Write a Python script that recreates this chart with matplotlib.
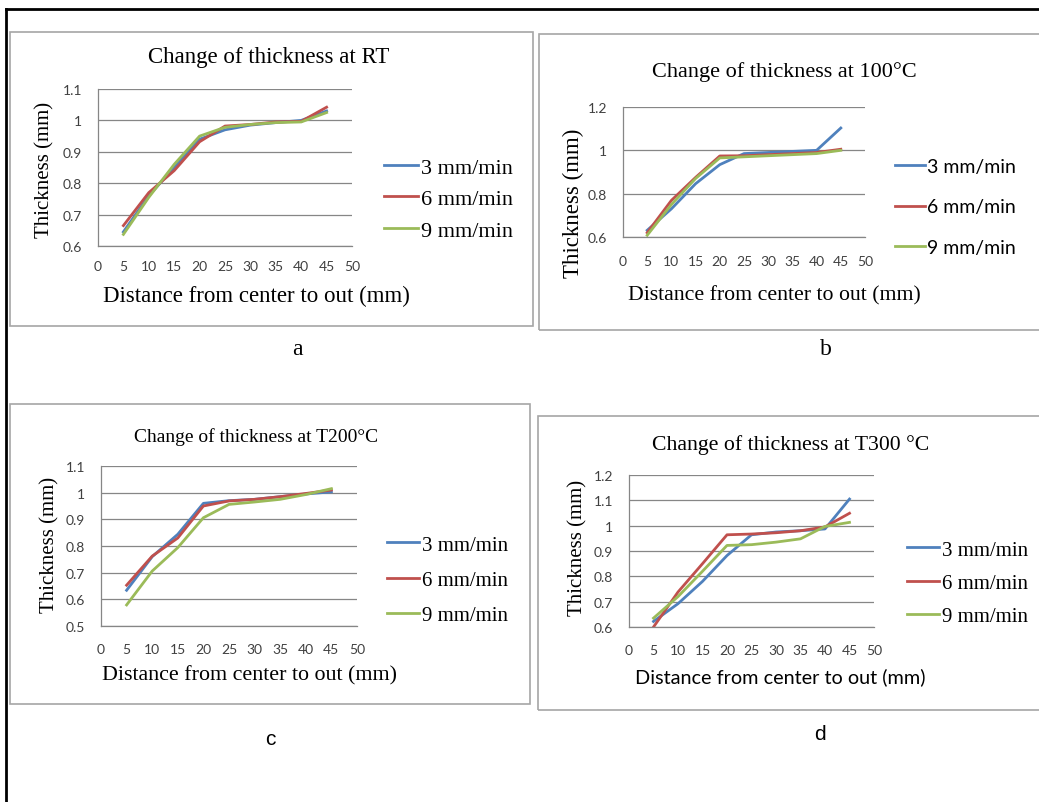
import matplotlib
matplotlib.use("Agg")
import matplotlib.pyplot as plt
from matplotlib.lines import Line2D
from matplotlib.patches import Rectangle

W, H = 1039, 803

distance_mm = [5, 10, 15, 20, 25, 30, 35, 40, 45]
speeds = ["3 mm/min", "6 mm/min", "9 mm/min"]

rt_3 = [0.645, 0.76, 0.85, 0.94, 0.97, 0.985, 0.993, 1.0, 1.03]
rt_6 = [0.665, 0.77, 0.84, 0.932, 0.982, 0.987, 0.995, 0.997, 1.042]
rt_9 = [0.637, 0.755, 0.86, 0.95, 0.978, 0.987, 0.993, 0.995, 1.025]

t100_3 = [0.631, 0.73, 0.846, 0.934, 0.985, 0.99, 0.995, 1.0, 1.103]
t100_6 = [0.62, 0.769, 0.875, 0.974, 0.975, 0.98, 0.985, 0.99, 1.005]
t100_9 = [0.608, 0.75, 0.87, 0.965, 0.97, 0.975, 0.98, 0.985, 1.0]

t200_3 = [0.634, 0.76, 0.844, 0.96, 0.97, 0.975, 0.985, 0.995, 1.003]
t200_6 = [0.653, 0.762, 0.83, 0.95, 0.969, 0.975, 0.985, 0.997, 1.01]
t200_9 = [0.579, 0.706, 0.794, 0.906, 0.956, 0.965, 0.975, 0.993, 1.015]

t300_3 = [0.622, 0.692, 0.78, 0.882, 0.964, 0.975, 0.98, 0.987, 1.105]
t300_6 = [0.6, 0.738, 0.85, 0.964, 0.967, 0.972, 0.98, 0.995, 1.049]
t300_9 = [0.635, 0.72, 0.82, 0.922, 0.925, 0.935, 0.948, 0.997, 1.013]

x_ticks = [0, 5, 10, 15, 20, 25, 30, 35, 40, 45, 50]

COLORS = ["#4F81BD", "#C0504D", "#9BBB59"]
GRID = "#868686"
SERIF = "Liberation Serif"
SANS = "Lato"

fig = plt.figure(figsize=(W / 100, H / 100), dpi=100)


def fx(x):
    return x / W


def fy(y):
    return 1 - y / H


def box(x0, y0, x1, y1):
    fig.patches.append(
        Rectangle((fx(x0), fy(y1)), fx(x1 - x0), (y1 - y0) / H,
                  transform=fig.transFigure, fill=False,
                  edgecolor="#A6A6A6", lw=1.2)
    )


def panel(area, series, ylim, yticks, title, title_xy, title_size,
          ylab_xy, ylab_size, xlab_xy, xlab_font, leg_xy, leg_font, xpad=11):
    x0, y0, x1, y1 = area
    ax = fig.add_axes([fx(x0), fy(y1), fx(x1 - x0), (y1 - y0) / H])
    for vals, c, lab in zip(series, COLORS, speeds):
        ax.plot(distance_mm, vals, color=c, lw=2.0, label=lab)
    ax.set_xlim(0, 50)
    ax.set_ylim(*ylim)
    ax.set_xticks(x_ticks)
    ax.set_yticks(yticks)
    ax.set_yticklabels([f"{v:g}" for v in yticks])
    ax.tick_params(length=0, labelsize=10, colors="#404040")
    ax.tick_params(axis="x", pad=xpad)
    ax.tick_params(axis="y", pad=11.5)
    for t in ax.get_xticklabels() + ax.get_yticklabels():
        t.set_family(SANS)
    ax.yaxis.grid(True, color=GRID, lw=0.9)
    ax.set_axisbelow(True)
    for s in ["top", "right"]:
        ax.spines[s].set_visible(False)
    for s in ["left", "bottom"]:
        ax.spines[s].set_color(GRID)
        ax.spines[s].set_linewidth(0.9)
    fig.text(fx(title_xy[0]), fy(title_xy[1]), title, ha="center", va="center",
             family=SERIF, fontsize=title_size)
    fig.text(fx(ylab_xy[0]), fy(ylab_xy[1]), "Thickness (mm)", rotation=90,
             ha="center", va="center", family=SERIF, fontsize=ylab_size)
    fig.text(fx(xlab_xy[0]), fy(xlab_xy[1]), "Distance from center to out (mm)",
             ha="center", va="center", family=xlab_font[0], fontsize=xlab_font[1])
    ax.legend(loc="upper left", bbox_to_anchor=(fx(leg_xy[0]), fy(leg_xy[1])),
              bbox_transform=fig.transFigure, frameon=False,
              handlelength=1.55, handletextpad=0.12, borderpad=0,
              borderaxespad=0, labelspacing=leg_font[2],
              prop={"family": leg_font[0], "size": leg_font[1]})
    return ax


# panel frames
box(10, 33, 533, 327)
box(539, 35, 1045, 331)
box(10, 405, 530, 705)
box(538, 417, 1045, 711)

panel((98, 90, 352, 247), [rt_3, rt_6, rt_9], (0.6, 1.1),
      [0.6, 0.7, 0.8, 0.9, 1.0, 1.1], "Change of thickness at RT", (269, 57), 16.5,
      (45, 170), 15, (256, 296), (SERIF, 16.5), (384, 158), (SERIF, 16, 0.5),
      xpad=10)

panel((623, 108, 865, 238), [t100_3, t100_6, t100_9], (0.6, 1.2),
      [0.6, 0.8, 1.0, 1.2], "Change of thickness at 100\u00b0C", (784, 72), 16,
      (573, 203), 16.5, (774, 296), (SERIF, 15.7), (895, 159), (SANS, 14, 1.2),
      xpad=13)

panel((101, 467, 357, 627), [t200_3, t200_6, t200_9], (0.5, 1.1),
      [0.5, 0.6, 0.7, 0.8, 0.9, 1.0, 1.1], "Change of thickness at T200\u00b0C",
      (256, 437), 14, (50, 545), 15, (250, 676), (SERIF, 15.8), (387, 536),
      (SERIF, 15, 0.75), xpad=12)

panel((629, 476, 874, 628), [t300_3, t300_6, t300_9], (0.6, 1.2),
      [0.6, 0.7, 0.8, 0.9, 1.0, 1.1, 1.2], "Change of thickness at T300 \u00b0C",
      (791, 445), 15.7, (578, 548), 15, (780, 677), (SANS, 14.3), (907, 541),
      (SERIF, 15, 0.66), xpad=12)

# panel letters
fig.text(fx(297), fy(350), "a", ha="center", va="center", family=SERIF, fontsize=17)
fig.text(fx(826), fy(350), "b", ha="center", va="center", family=SERIF, fontsize=17)
fig.text(fx(270), fy(740), "c", ha="center", va="center", family="Liberation Sans", fontsize=15)
fig.text(fx(820), fy(735), "d", ha="center", va="center", family="Liberation Sans", fontsize=15)

# outer frame
fig.lines.append(Line2D([fx(6), 1], [fy(10), fy(10)], transform=fig.transFigure,
                        color="black", lw=2))
fig.lines.append(Line2D([fx(6), fx(6)], [fy(10), 0], transform=fig.transFigure,
                        color="black", lw=2))

fig.savefig("out.png", dpi=100, facecolor="white")
